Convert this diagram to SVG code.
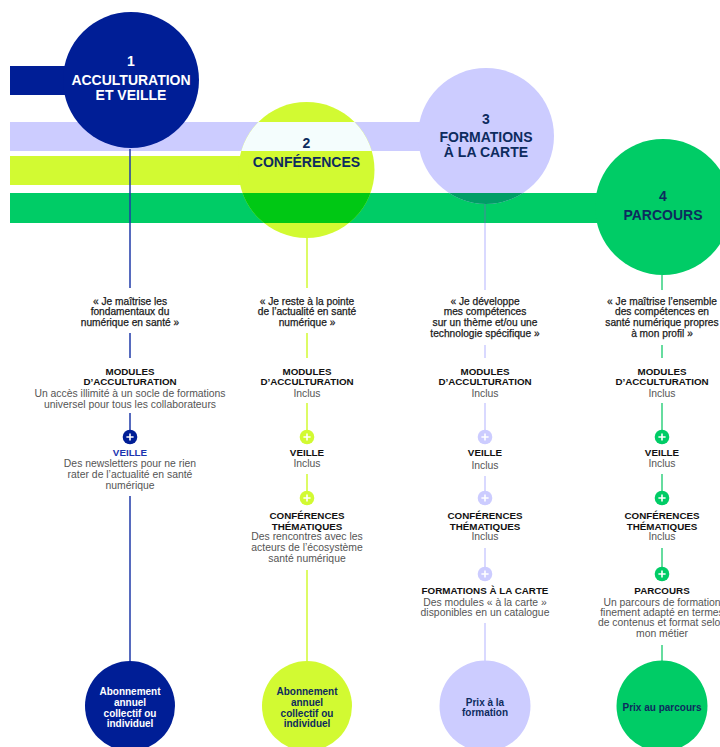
<svg xmlns="http://www.w3.org/2000/svg" width="720" height="747" viewBox="0 0 720 747">
<defs>
<style>
text{font-family:"Liberation Sans",Arial,sans-serif;text-anchor:middle}
.t{font-size:14px;font-weight:bold;fill:#0d2b5e}
.tw{fill:#fff}
.q{font-size:10.2px;fill:#1a1a1a;stroke:#1a1a1a;stroke-width:0.25}
.h{font-size:9.8px;font-weight:bold;fill:#111}
.b{font-size:10.4px;fill:#555}
.p{font-size:10px;font-weight:bold;fill:#0d2b5e}
.l1{stroke:#1f3aa8;stroke-width:1.5}
.l2{stroke:#d2fa32;stroke-width:1.5}
.l3{stroke:#ccccff;stroke-width:1.5}
.l4{stroke:#33d17f;stroke-width:1.5}
.pl{stroke:#fff;stroke-width:1.6;fill:none}
</style>
<clipPath id="c2"><circle cx="306.5" cy="170" r="68"/></clipPath>
<clipPath id="c3"><circle cx="486" cy="136" r="68"/></clipPath>
<g id="plus"><path class="pl" d="M-3.6 0H3.6M0 -3.6V3.6"/></g>
</defs>
<rect width="720" height="747" fill="#fff"/>
<g id="bars">
<rect x="10" y="66" width="125" height="29" fill="#001e96"/>
<rect x="10" y="122" width="480" height="29" fill="#ccccff"/>
<rect x="10" y="156" width="290" height="29" fill="#d2fa32"/>
<rect x="10" y="193" width="710" height="30" fill="#00cc66"/>
</g>
<g id="node1">
<circle cx="131" cy="80" r="68" fill="#001e96"/>
<text class="t tw" x="131" y="66">1</text>
<text class="t tw" x="131" y="85">ACCULTURATION</text>
<text class="t tw" x="131" y="100">ET VEILLE</text>
</g>
<g id="node2">
<circle cx="306.5" cy="170" r="68" fill="#d2fa32"/>
<g clip-path="url(#c2)">
<rect x="230" y="122" width="160" height="29" fill="#f4fdfd"/>
<rect x="230" y="193" width="160" height="30" fill="#00c814"/>
</g>
<text class="t" x="306.5" y="148">2</text>
<text class="t" x="306.5" y="167">CONFÉRENCES</text>
</g>
<g id="node3">
<circle cx="486" cy="136" r="68" fill="#ccccff"/>
<g clip-path="url(#c3)">
<rect x="410" y="193" width="160" height="30" fill="#009e66"/>
</g>
<text class="t" x="486" y="124">3</text>
<text class="t" x="486" y="142">FORMATIONS</text>
<text class="t" x="486" y="157">À LA CARTE</text>
</g>
<g id="node4">
<circle cx="663" cy="207" r="68" fill="#00cc66"/>
<text class="t" x="663" y="201">4</text>
<text class="t" x="663" y="220">PARCOURS</text>
</g>
<g id="connectors">
<line class="l1" x1="130" y1="149" x2="130" y2="288"/>
<line class="l1" x1="130" y1="333" x2="130" y2="358"/>
<line class="l1" x1="130" y1="413" x2="130" y2="431"/>
<line class="l1" x1="130" y1="496" x2="130" y2="662"/>
<line class="l2" x1="307" y1="238" x2="307" y2="288"/>
<line class="l2" x1="307" y1="333" x2="307" y2="358"/>
<line class="l2" x1="307" y1="403" x2="307" y2="431"/>
<line class="l2" x1="307" y1="474" x2="307" y2="492"/>
<line class="l2" x1="307" y1="570" x2="307" y2="662"/>
<line class="l3" x1="485" y1="204" x2="485" y2="290"/>
<line x1="485" y1="204" x2="485" y2="223" stroke="#009e66" stroke-width="1.5"/>
<line class="l3" x1="485" y1="345" x2="485" y2="358"/>
<line class="l3" x1="485" y1="403" x2="485" y2="431"/>
<line class="l3" x1="485" y1="476" x2="485" y2="492"/>
<line class="l3" x1="485" y1="548" x2="485" y2="567"/>
<line class="l3" x1="485" y1="623" x2="485" y2="662"/>
<line class="l4" x1="662" y1="275" x2="662" y2="290"/>
<line class="l4" x1="662" y1="345" x2="662" y2="358"/>
<line class="l4" x1="662" y1="403" x2="662" y2="431"/>
<line class="l4" x1="662" y1="474" x2="662" y2="492"/>
<line class="l4" x1="662" y1="548" x2="662" y2="568"/>
<line class="l4" x1="662" y1="645" x2="662" y2="662"/>
</g>
<g id="col1">
<text class="q" x="130" y="304.5">« Je maîtrise les</text>
<text class="q" x="130" y="315.3">fondamentaux du</text>
<text class="q" x="130" y="326">numérique en santé »</text>
<text class="h" x="130" y="374.5">MODULES</text>
<text class="h" x="130" y="385">D’ACCULTURATION</text>
<text class="b" x="130" y="396.5">Un accès illimité à un socle de formations</text>
<text class="b" x="130" y="407.5">universel pour tous les collaborateurs</text>
<circle cx="130" cy="437" r="7.3" fill="#001e96"/><use href="#plus" x="130" y="437"/>
<text class="h" x="130" y="455.8" style="fill:#1a34b0">VEILLE</text>
<text class="b" x="130" y="467">Des newsletters pour ne rien</text>
<text class="b" x="130" y="478">rater de l’actualité en santé</text>
<text class="b" x="130" y="489">numérique</text>
</g>
<g id="col2">
<text class="q" x="307" y="304.5">« Je reste à la pointe</text>
<text class="q" x="307" y="315.3">de l’actualité en santé</text>
<text class="q" x="307" y="326">numérique »</text>
<text class="h" x="307" y="374.5">MODULES</text>
<text class="h" x="307" y="385">D’ACCULTURATION</text>
<text class="b" x="307" y="396.5">Inclus</text>
<circle cx="307" cy="437" r="7.3" fill="#d2fa32"/><use href="#plus" x="307" y="437"/>
<text class="h" x="307" y="455.8">VEILLE</text>
<text class="b" x="307" y="467">Inclus</text>
<circle cx="307" cy="498" r="7.3" fill="#d2fa32"/><use href="#plus" x="307" y="498"/>
<text class="h" x="307" y="518.5">CONFÉRENCES</text>
<text class="h" x="307" y="529.5">THÉMATIQUES</text>
<text class="b" x="307" y="540">Des rencontres avec les</text>
<text class="b" x="307" y="551">acteurs de l’écosystème</text>
<text class="b" x="307" y="562">santé numérique</text>
</g>
<g id="col3">
<text class="q" x="485" y="304.5">« Je développe</text>
<text class="q" x="485" y="315.3">mes compétences</text>
<text class="q" x="485" y="326">sur un thème et/ou une</text>
<text class="q" x="485" y="336.8">technologie spécifique »</text>
<text class="h" x="485" y="374.5">MODULES</text>
<text class="h" x="485" y="385">D’ACCULTURATION</text>
<text class="b" x="485" y="396.5">Inclus</text>
<circle cx="485" cy="437" r="7.3" fill="#ccccff"/><use href="#plus" x="485" y="437"/>
<text class="h" x="485" y="455.8">VEILLE</text>
<text class="b" x="485" y="468.5">Inclus</text>
<circle cx="485" cy="498" r="7.3" fill="#ccccff"/><use href="#plus" x="485" y="498"/>
<text class="h" x="485" y="518.5">CONFÉRENCES</text>
<text class="h" x="485" y="529.5">THÉMATIQUES</text>
<text class="b" x="485" y="540">Inclus</text>
<circle cx="485" cy="574" r="7.3" fill="#ccccff"/><use href="#plus" x="485" y="574"/>
<text class="h" x="485" y="594">FORMATIONS À LA CARTE</text>
<text class="b" x="485" y="605.8">Des modules « à la carte »</text>
<text class="b" x="485" y="616">disponibles en un catalogue</text>
</g>
<g id="col4">
<text class="q" x="662" y="304.5">« Je maîtrise l’ensemble</text>
<text class="q" x="662" y="315.3">des compétences en</text>
<text class="q" x="662" y="326">santé numérique propres</text>
<text class="q" x="662" y="336.8">à mon profil »</text>
<text class="h" x="662" y="374.5">MODULES</text>
<text class="h" x="662" y="385">D’ACCULTURATION</text>
<text class="b" x="662" y="396.5">Inclus</text>
<circle cx="662" cy="437" r="7.3" fill="#00cc66"/><use href="#plus" x="662" y="437"/>
<text class="h" x="662" y="455.8">VEILLE</text>
<text class="b" x="662" y="467">Inclus</text>
<circle cx="662" cy="498" r="7.3" fill="#00cc66"/><use href="#plus" x="662" y="498"/>
<text class="h" x="662" y="518.5">CONFÉRENCES</text>
<text class="h" x="662" y="529.5">THÉMATIQUES</text>
<text class="b" x="662" y="540">Inclus</text>
<circle cx="662" cy="574" r="7.3" fill="#00cc66"/><use href="#plus" x="662" y="574"/>
<text class="h" x="662" y="594">PARCOURS</text>
<text class="b" x="662" y="605.8">Un parcours de formation</text>
<text class="b" x="662" y="616">finement adapté en termes</text>
<text class="b" x="662" y="626.2">de contenus et format selon</text>
<text class="b" x="662" y="636.8">mon métier</text>
</g>
<g id="price1">
<circle cx="130" cy="706" r="45" fill="#001e96"/>
<text class="p" x="130" y="694.5" style="fill:#fff">Abonnement</text>
<text class="p" x="130" y="705.5" style="fill:#fff">annuel</text>
<text class="p" x="130" y="716.5" style="fill:#fff">collectif ou</text>
<text class="p" x="130" y="727" style="fill:#fff">individuel</text>
</g>
<g id="price2">
<circle cx="307" cy="706" r="45" fill="#d2fa32"/>
<text class="p" x="307" y="694.5">Abonnement</text>
<text class="p" x="307" y="705.5">annuel</text>
<text class="p" x="307" y="716.5">collectif ou</text>
<text class="p" x="307" y="727">individuel</text>
</g>
<g id="price3">
<circle cx="485" cy="706" r="45.5" fill="#ccccff"/>
<text class="p" x="485" y="705.5">Prix à la</text>
<text class="p" x="485" y="716">formation</text>
</g>
<g id="price4">
<circle cx="662" cy="706" r="45.5" fill="#00cc66"/>
<text class="p" x="662" y="710.5">Prix au parcours</text>
</g>
</svg>
